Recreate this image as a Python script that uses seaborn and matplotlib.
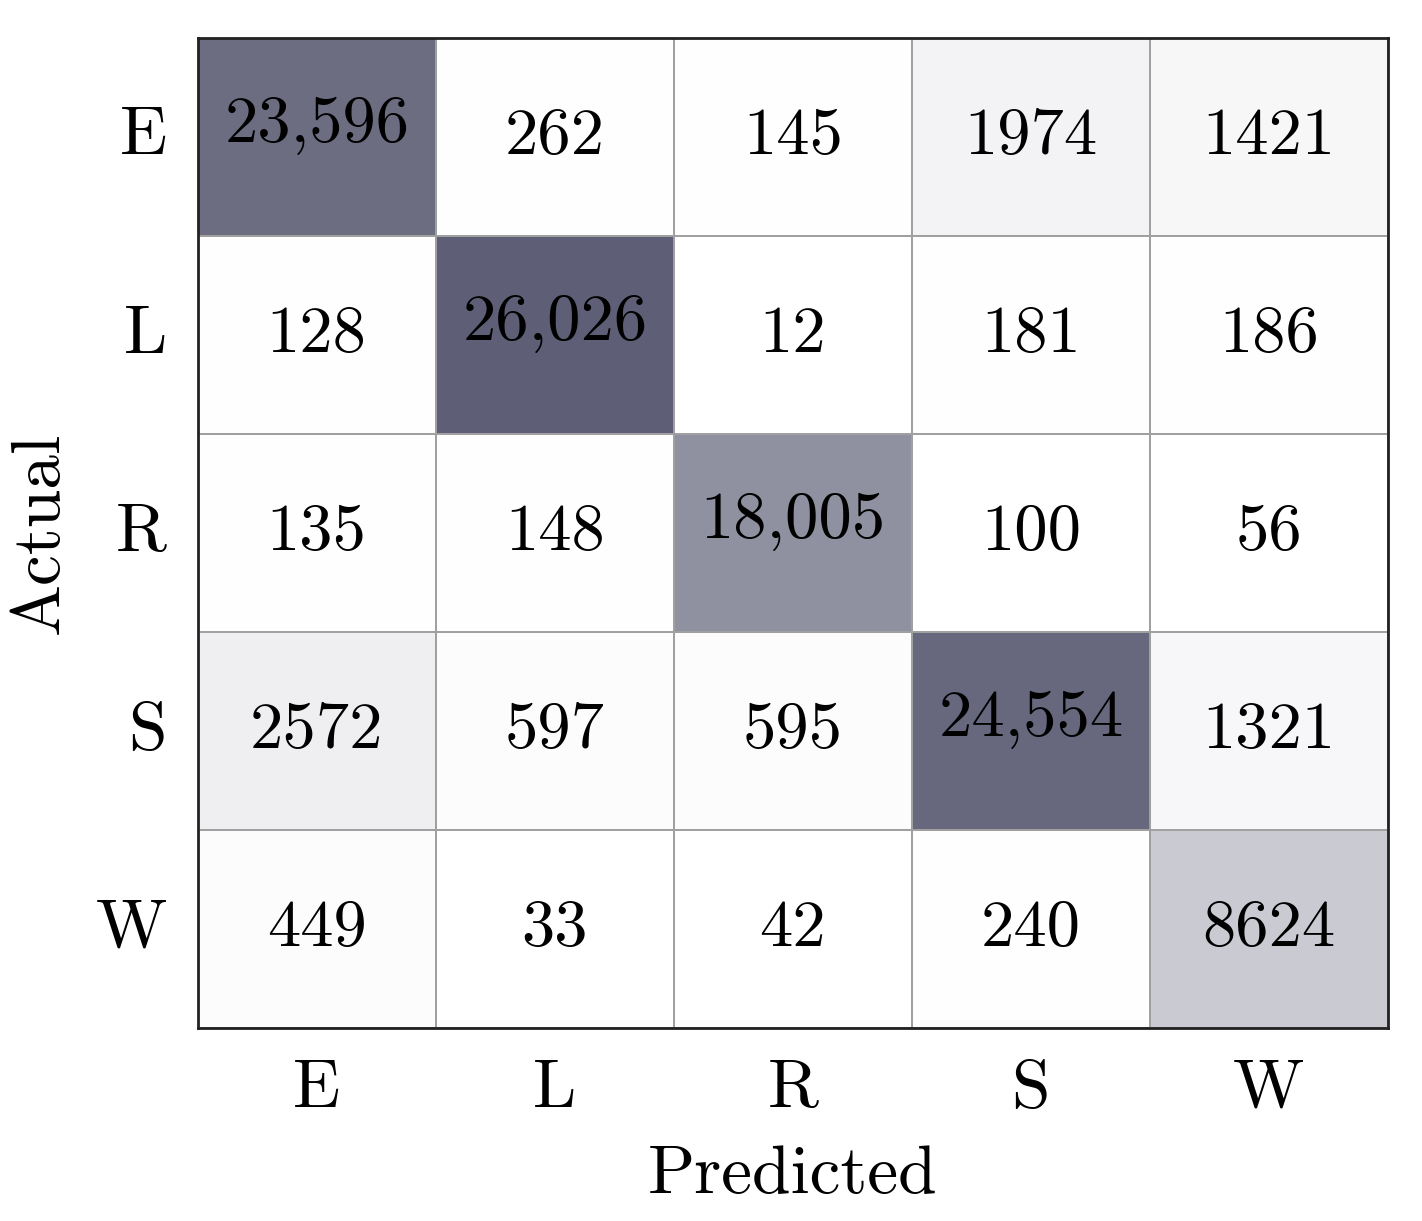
import matplotlib
matplotlib.use("Agg")
import matplotlib.pyplot as plt
import seaborn as sns
import numpy as np
from matplotlib.colors import LinearSegmentedColormap

labels = ["E", "L", "R", "S", "W"]
values = [
    [23596, 262, 145, 1974, 1421],
    [128, 26026, 12, 181, 186],
    [135, 148, 18005, 100, 56],
    [2572, 597, 595, 24554, 1321],
    [449, 33, 42, 240, 8624],
]
annots = [
    ["23,596", "262", "145", "1974", "1421"],
    ["128", "26,026", "12", "181", "186"],
    ["135", "148", "18,005", "100", "56"],
    ["2572", "597", "595", "24,554", "1321"],
    ["449", "33", "42", "240", "8624"],
]

plt.rcParams["font.family"] = ["cmr10", "DejaVu Serif"]
plt.rcParams["axes.formatter.use_mathtext"] = True

cmap = LinearSegmentedColormap.from_list("g", ["#ffffff", "#5e5f76"])
fig = plt.figure(figsize=(14.22, 12.21), dpi=100)
ax = fig.add_axes([0.139, 0.158, 0.837, 0.811])
sns.heatmap(np.array(values), annot=np.array(annots), fmt="", cmap=cmap, vmin=0, vmax=26026,
            cbar=False, linewidths=1.2, linecolor="#a0a0a0", ax=ax,
            xticklabels=labels, yticklabels=labels,
            annot_kws={"fontsize": 48, "color": "black"})
for t in ax.texts:
    if "," in t.get_text():
        t.set_y(t.get_position()[1] - 0.06)
for s in ax.spines.values():
    s.set_visible(True)
    s.set_color("#222222")
    s.set_linewidth(2)
ax.tick_params(length=0, labelsize=50, pad=22)
plt.setp(ax.get_yticklabels(), rotation=0)
ax.set_xlabel("Predicted", fontsize=50, labelpad=18)
ax.set_ylabel("Actual", fontsize=50, labelpad=18)
fig.savefig("out.png", dpi=100)
